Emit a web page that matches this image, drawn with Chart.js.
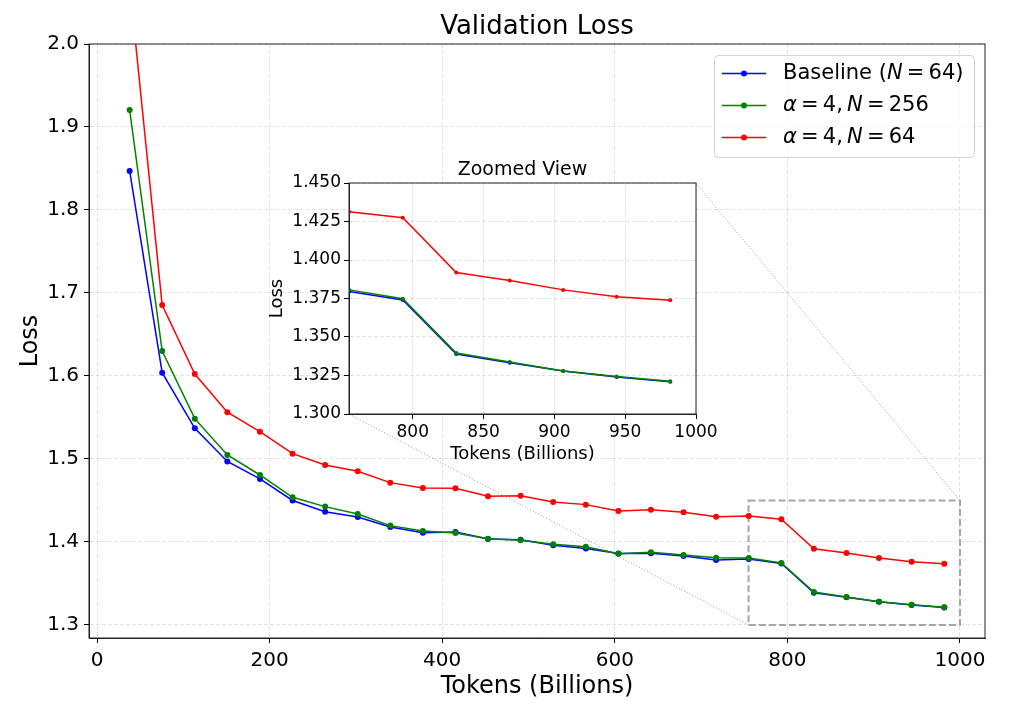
<!DOCTYPE html>
<html>
<head>
<meta charset="utf-8">
<script src="https://cdn.jsdelivr.net/npm/chart.js@4.4.0/dist/chart.umd.min.js"></script>
<style>
html, body { margin: 0; padding: 0; background: #fff; }
#wrap { position: relative; width: 1010px; height: 718px; }
#mainBox { position: absolute; left: 0; top: 0; width: 1010px; height: 718px; }
#insetBox { position: absolute; left: 262px; top: 145px; width: 460px; height: 330px; }
</style>
</head>
<body>
<div id="wrap">
  <div id="mainBox"><canvas id="mainChart"></canvas></div>
  <div id="insetBox"><canvas id="insetChart"></canvas></div>
</div>
<script>
// tokens seen (billions) at each eval
var tokens = [37.8, 75.5, 113.3, 151.0, 188.8, 226.6, 264.3, 302.1, 339.8, 377.6, 415.4, 453.1, 490.9,
              528.6, 566.4, 604.2, 641.9, 679.7, 717.4, 755.2, 793.0, 830.7, 868.5, 906.2, 944.0, 981.8];
var baseline = [1.847, 1.604, 1.537, 1.497, 1.476, 1.450, 1.4365, 1.430, 1.418, 1.411, 1.412, 1.4035, 1.4028,
                1.396, 1.392, 1.386, 1.3864, 1.3831, 1.3783, 1.3795, 1.3741, 1.3389, 1.3333, 1.3279, 1.3240, 1.3210];
var alpha4N256 = [1.9205, 1.630, 1.5486, 1.5048, 1.4807, 1.4538, 1.4426, 1.4337, 1.4197, 1.4133, 1.4108, 1.4040, 1.4020,
                  1.3972, 1.3943, 1.3859, 1.3876, 1.3843, 1.3811, 1.3806, 1.3748, 1.3396, 1.3337, 1.3279, 1.3243, 1.3213];
var alpha4N64 = [2.072, 1.6855, 1.6024, 1.5563, 1.5329, 1.5064, 1.4928, 1.4851, 1.4715, 1.4651, 1.4647, 1.4551, 1.4558,
                 1.4482, 1.4450, 1.4373, 1.4389, 1.4357, 1.4305, 1.4313, 1.4274, 1.3919, 1.3867, 1.3806, 1.3761, 1.3739];

var xTicks = [0, 200, 400, 600, 800, 1000];
var yTicks = [1.3, 1.4, 1.5, 1.6, 1.7, 1.8, 1.9, 2.0];
var insetXTicks = [800, 850, 900, 950, 1000];
var insetYTicks = [1.300, 1.325, 1.350, 1.375, 1.400, 1.425, 1.450];
var insetXRange = [755, 1000];
var insetYRange = [1.30, 1.45];

var labels = ['Baseline (N = 64)', '\u03b1 = 4, N = 256', '\u03b1 = 4, N = 64'];
// legend text pieces, true = math italic
var legendParts = [
    [['Baseline (', false], ['N', true], ['\u2009=\u200964)', false]],
    [['\u03b1', true], ['\u2009=\u20094,\u2009', false], ['N', true], ['\u2009=\u2009256', false]],
    [['\u03b1', true], ['\u2009=\u20094,\u2009', false], ['N', true], ['\u2009=\u200964', false]]
];
var colors = ['#0000ff', '#008000', '#ff0000'];

var FONT = 'DejaVu Sans';
var gridColor = 'rgba(176,176,176,0.35)';

function series(idx, data, radius) {
    return {
        label: labels[idx],
        data: tokens.map(function (x, i) { return {x: x, y: data[i]}; }),
        borderColor: colors[idx],
        backgroundColor: colors[idx],
        borderWidth: 1.5,
        pointRadius: radius,
        pointHoverRadius: radius,
        pointBorderWidth: 0,
        tension: 0,
        order: 3 - idx
    };
}

function axis(opts) {
    return {
        type: 'linear',
        min: opts.min,
        max: opts.max,
        afterBuildTicks: function (s) { s.ticks = opts.ticks.map(function (v) { return {value: v}; }); },
        afterFit: opts.fit,
        ticks: {
            font: {family: FONT, size: opts.tickSize},
            color: '#000',
            padding: opts.pad,
            maxRotation: 0,
            autoSkip: false,
            callback: function (v) { return opts.digits == null ? String(v) : v.toFixed(opts.digits); }
        },
        grid: {color: gridColor, lineWidth: 1, tickColor: '#000', tickLength: 5, tickWidth: 1, tickBorderDash: []},
        border: {display: true, color: '#222', width: 1, dash: [4, 2]},
        title: {display: true, text: opts.title, color: '#000',
                font: {family: FONT, size: opts.titleSize}, padding: opts.titlePad}
    };
}

function frameAndTitle(chart, text, size, y) {
    var a = chart.chartArea, ctx = chart.ctx;
    ctx.save();
    ctx.strokeStyle = '#222';
    ctx.lineWidth = 1;
    ctx.strokeRect(a.left, a.top, a.right - a.left, a.bottom - a.top);
    ctx.fillStyle = '#000';
    ctx.font = size + 'px ' + FONT;
    ctx.textAlign = 'center';
    ctx.textBaseline = 'middle';
    ctx.fillText(text, (a.left + a.right) / 2, y);
    ctx.restore();
}

// ---------- inset ----------
var insetEl = document.getElementById('insetBox');
var insetChart = new Chart(document.getElementById('insetChart'), {
    type: 'line',
    data: {datasets: [series(0, baseline, 2), series(1, alpha4N256, 2), series(2, alpha4N64, 2)]},
    options: {
        responsive: true,
        maintainAspectRatio: false,
        animation: false,
        events: [],
        layout: {padding: {top: 38, right: 26, left: 0, bottom: 0}},
        plugins: {legend: {display: false}, tooltip: {enabled: false}},
        scales: {
            x: axis({min: insetXRange[0], max: insetXRange[1], ticks: insetXTicks, tickSize: 17, pad: 3,
                     title: 'Tokens (Billions)', titleSize: 18, titlePad: {top: 0, bottom: 10},
                     fit: function (s) { s.height = 61; }}),
            y: axis({min: insetYRange[0], max: insetYRange[1], ticks: insetYTicks, tickSize: 17, pad: 3, digits: 3,
                     title: 'Loss', titleSize: 18, titlePad: {top: 5, bottom: 0},
                     fit: function (s) { s.width = 87; }})
        }
    },
    plugins: [{
        id: 'insetDecor',
        beforeDraw: function (chart) {
            var a = chart.chartArea, ctx = chart.ctx;
            ctx.save();
            ctx.fillStyle = '#fff';
            ctx.fillRect(a.left, a.top, a.right - a.left, a.bottom - a.top);
            ctx.restore();
        },
        afterDraw: function (chart) { frameAndTitle(chart, 'Zoomed View', 19, 25); }
    }]
});

// ---------- main ----------
var mainDecor = {
    id: 'mainDecor',
    beforeDatasetsDraw: function (chart) {
        var x = chart.scales.x, y = chart.scales.y, ctx = chart.ctx;
        var x0 = x.getPixelForValue(insetXRange[0]), x1 = x.getPixelForValue(insetXRange[1]);
        var y0 = y.getPixelForValue(insetYRange[0]), y1 = y.getPixelForValue(insetYRange[1]);
        var ix = insetChart.scales.x, iy = insetChart.scales.y;
        var ox = insetEl.offsetLeft, oy = insetEl.offsetTop;
        ctx.save();
        // connectors
        ctx.strokeStyle = 'rgba(128,128,128,0.8)';
        ctx.lineWidth = 1;
        ctx.setLineDash([1, 2]);
        ctx.beginPath();
        ctx.moveTo(x0, y0);
        ctx.lineTo(ix.getPixelForValue(insetXRange[0]) + ox, iy.getPixelForValue(insetYRange[0]) + oy);
        ctx.moveTo(x1, y1);
        ctx.lineTo(ix.getPixelForValue(insetXRange[1]) + ox, iy.getPixelForValue(insetYRange[1]) + oy);
        ctx.stroke();
        // zoom box
        ctx.strokeStyle = '#a6a6a6';
        ctx.lineWidth = 2;
        ctx.setLineDash([7, 3]);
        ctx.strokeRect(x0, y1, x1 - x0, y0 - y1);
        ctx.restore();
    },
    afterDraw: function (chart) {
        var ctx = chart.ctx;
        frameAndTitle(chart, 'Validation Loss', 26, 27);
        // legend
        ctx.save();
        ctx.beginPath();
        ctx.roundRect(714.5, 55.5, 260, 102, 4);
        ctx.fillStyle = 'rgba(255,255,255,0.8)';
        ctx.fill();
        ctx.strokeStyle = '#d0d0d0';
        ctx.lineWidth = 1;
        ctx.stroke();
        chart.data.datasets.forEach(function (ds, i) {
            var ry = 73.5 + i * 32;
            ctx.strokeStyle = ds.borderColor;
            ctx.lineWidth = 1.5;
            ctx.beginPath();
            ctx.moveTo(722, ry);
            ctx.lineTo(766, ry);
            ctx.stroke();
            ctx.fillStyle = ds.borderColor;
            ctx.beginPath();
            ctx.arc(744, ry, 3, 0, Math.PI * 2);
            ctx.fill();
            ctx.fillStyle = '#000';
            ctx.textBaseline = 'middle';
            ctx.textAlign = 'left';
            var tx = 783;
            legendParts[i].forEach(function (p) {
                ctx.font = (p[1] ? 'italic ' : '') + '21px ' + FONT;
                ctx.fillText(p[0], tx, ry);
                tx += ctx.measureText(p[0]).width;
            });
        });
        ctx.restore();
    }
};

var mainChart = new Chart(document.getElementById('mainChart'), {
    type: 'line',
    data: {datasets: [series(0, baseline, 3), series(1, alpha4N256, 3), series(2, alpha4N64, 3)]},
    options: {
        responsive: true,
        maintainAspectRatio: false,
        animation: false,
        events: [],
        layout: {padding: {top: 44, right: 25, left: 0, bottom: 0}},
        plugins: {legend: {display: false}, tooltip: {enabled: false}},
        scales: {
            x: axis({min: -9.3, max: 1029, ticks: xTicks, tickSize: 20, pad: 6,
                     title: 'Tokens (Billions)', titleSize: 24, titlePad: {top: 0, bottom: 17},
                     fit: function (s) { s.height = 80; }}),
            y: axis({min: 1.2843, max: 2.0, ticks: yTicks, tickSize: 20, pad: 5, digits: 1,
                     title: 'Loss', titleSize: 24, titlePad: {top: 16, bottom: 0},
                     fit: function (s) { s.width = 89; }})
        }
    },
    plugins: [mainDecor]
});
</script>
</body>
</html>
